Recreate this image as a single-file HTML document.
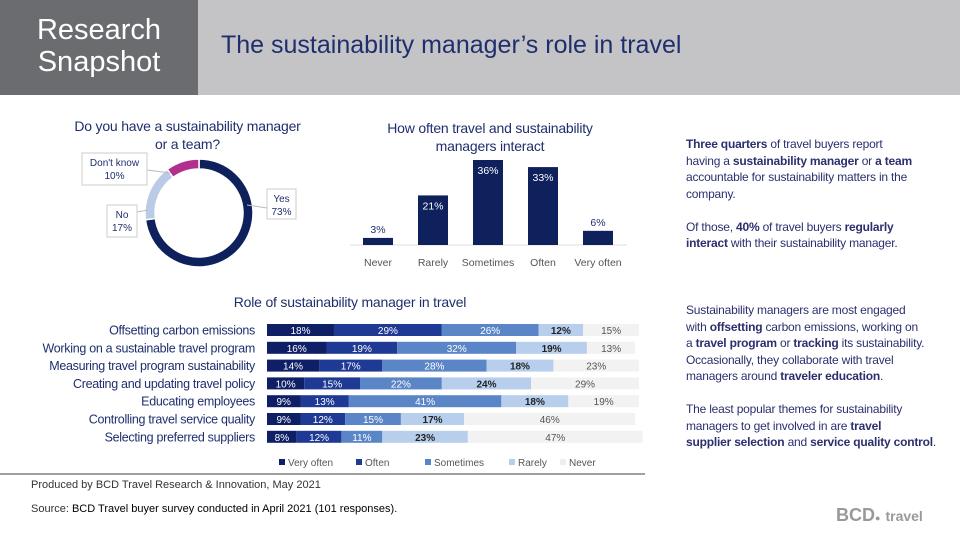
<!DOCTYPE html>
<html><head><meta charset="utf-8"><style>
body{margin:0;width:960px;height:540px;overflow:hidden;background:#fff;font-family:"Liberation Sans",sans-serif;position:relative}
.abs{position:absolute}
.txt{color:#2b2f6e;font-size:12px;line-height:16.5px;white-space:nowrap;letter-spacing:-0.2px}
.txt b{color:#2b2f6e}
</style></head><body>
<div class="abs" style="left:0;top:0;width:198px;height:95px;background:#6b6c70;color:#fff;font-size:29px;line-height:32px;text-align:center;padding-top:14px;box-sizing:border-box">Research<br>Snapshot</div>
<div class="abs" style="left:198px;top:0;width:762px;height:95px;background:#c4c4c6"></div>
<div class="abs" style="left:221px;top:31px;font-size:25px;color:#1f2f6e">The sustainability manager’s role in travel</div>

<svg class="abs" style="left:0;top:0" width="960" height="540">
<g id="donut"></g><g id="cols"></g><g id="stack"></g>
<line x1="0" y1="474" x2="645" y2="474" stroke="#a0a0a0" stroke-width="2"/>
</svg>

<div class="abs" style="left:35px;top:117px;width:305px;text-align:center;font-size:14px;line-height:18px;color:#1f2f6e;letter-spacing:-0.2px">Do you have a sustainability manager<br>or a team?</div>
<div class="abs" style="left:345px;top:119px;width:290px;text-align:center;font-size:14px;line-height:18px;color:#1f2f6e;letter-spacing:-0.2px">How often travel and sustainability<br>managers interact</div>
<div class="abs" style="left:200px;top:294px;width:300px;text-align:center;font-size:14px;color:#1f2f6e;letter-spacing:-0.2px">Role of sustainability manager in travel</div>

<div class="abs txt" style="left:686px;top:136px"><b>Three quarters</b> of travel buyers report<br>having a <b>sustainability manager</b> or <b>a team</b><br>accountable for sustainability matters in the<br>company.<br><br>Of those, <b>40%</b> of travel buyers <b>regularly</b><br><b>interact</b> with their sustainability manager.</div>
<div class="abs txt" style="left:686px;top:302px">Sustainability managers are most engaged<br>with <b>offsetting</b> carbon emissions, working on<br>a <b>travel program</b> or <b>tracking</b> its sustainability.<br>Occasionally, they collaborate with travel<br>managers around <b>traveler education</b>.<br><br>The least popular themes for sustainability<br>managers to get involved in are <b>travel</b><br><b>supplier selection</b> and <b>service quality control</b>.</div>

<div class="abs" style="left:31px;top:479px;font-size:11px;color:#333">Produced by BCD Travel Research &amp; Innovation, May 2021</div>
<div class="abs" style="left:31px;top:503px;font-size:11px;color:#333">Source: <span style="color:#000">BCD Travel buyer survey conducted in April 2021 (101 responses).</span></div>
<div class="abs" style="left:836px;top:505px;color:#999;font-size:18px;font-weight:bold">BCD<span style="font-size:9px">●</span> <span style="font-size:14px">travel</span></div>

<script>
const donutLabels=["Yes","No","Don't know"];
const donutValues=[73,17,10];
const colCats=["Never","Rarely","Sometimes","Often","Very often"];
const colValues=[3,21,36,33,6];
const rowCats=["Offsetting carbon emissions","Working on a sustainable travel program","Measuring travel program sustainability","Creating and updating travel policy","Educating employees","Controlling travel service quality","Selecting preferred suppliers"];
const seriesNames=["Very often","Often","Sometimes","Rarely","Never"];
const veryOften=[18,16,14,10,9,9,8];
const often=[29,19,17,15,13,12,12];
const sometimes=[26,32,28,22,41,15,11];
const rarely=[12,19,18,24,18,17,23];
const never=[15,13,23,29,19,46,47];

const NS="http://www.w3.org/2000/svg";
function mk(p,t,a){const e=document.createElementNS(NS,t);for(const k in a)e.setAttribute(k,a[k]);p.appendChild(e);return e;}

// donut
const dg=document.getElementById('donut');
const dColors=["#0f215c","#b9cbe6","#b2308d"];
const cx=199,cy=213,R=54,r=44;
let acc=0;const tot=donutValues.reduce((a,b)=>a+b,0);
function pt(f,rad){const a=f*2*Math.PI-Math.PI/2;return [cx+rad*Math.cos(a),cy+rad*Math.sin(a)];}
donutValues.forEach((v,i)=>{
 const f0=acc/tot,f1=(acc+v)/tot;acc+=v;
 const [x0,y0]=pt(f0,R),[x1,y1]=pt(f1,R),[x2,y2]=pt(f1,r),[x3,y3]=pt(f0,r);
 const lg=(f1-f0)>0.5?1:0;
 const p=mk(dg,'path',{d:`M${x0},${y0}A${R},${R} 0 ${lg} 1 ${x1},${y1}L${x2},${y2}A${r},${r} 0 ${lg} 0 ${x3},${y3}Z`,fill:dColors[i],stroke:'#fff','stroke-width':1.5});
 
 
});
const dLab=[[267,189,29,30],[107,205,30,32],[82,153,65,32]];
const dLine=[[267,208,247,205],[137,212,148,210],[147,170,170,173]];
donutValues.forEach((v,i)=>{
 const [x,y,w,h]=dLab[i];
 mk(dg,'line',{x1:dLine[i][0],y1:dLine[i][1],x2:dLine[i][2],y2:dLine[i][3],stroke:'#bbb'});
 const b=mk(dg,'rect',{x:x,y:y,width:w,height:h,fill:'#fff',stroke:'#ccc'});
 
 
 const t1=mk(dg,'text',{x:x+w/2,y:y+13,'text-anchor':'middle','font-size':10,fill:'#1f2f6e'});t1.textContent=donutLabels[i];
 
 
 const t2=mk(dg,'text',{x:x+w/2,y:y+26,'text-anchor':'middle','font-size':10,fill:'#1f2f6e'});t2.textContent=v+'%';
 
 
});

// columns
const cg=document.getElementById('cols');
const base=245,scale=85/36,x0c=378,step=55,bw=30;
mk(cg,'line',{x1:350,y1:base,x2:627,y2:base,stroke:'#ddd'});
colValues.forEach((v,i)=>{
 const cxp=x0c+i*step,h=v*scale;
 const b=mk(cg,'rect',{x:cxp-bw/2,y:base-h,width:bw,height:h,fill:'#0f215c'});
 
 
 const inside=h>20;
 const t=mk(cg,'text',{x:cxp,y:inside?base-h+14:base-h-5,'text-anchor':'middle','font-size':10.5,fill:inside?'#fff':'#1f2f6e'});t.textContent=v+'%';
 
 
 const c=mk(cg,'text',{x:cxp,y:base+21,'text-anchor':'middle','font-size':10.5,fill:'#555'});c.textContent=colCats[i];
 
 
});

// stacked
const sg=document.getElementById('stack');
const series=[veryOften,often,sometimes,rarely,never];
const sColors=["#0f1f66","#1f3a94","#5a86c8","#b7cfec","#f2f2f2"];
const tColors=["#fff","#fff","#fff","#222","#555"];
const sx0=267,sw=372/100,y0s=330,rstep=17.8,bh=12;
rowCats.forEach((c,i)=>{
 const yc=y0s+i*rstep;
 const l=mk(sg,'text',{x:255,y:yc+4.5,'text-anchor':'end','font-size':12.5,fill:'#1f2f6e','letter-spacing':'-0.3'});l.textContent=c;
 
 
 let a=0;
 series.forEach((s,j)=>{
  const v=s[i];
  const b=mk(sg,'rect',{x:sx0+a*sw,y:yc-bh/2,width:v*sw,height:bh,fill:sColors[j]});
  
  
  const t=mk(sg,'text',{x:sx0+(a+v/2)*sw,y:yc+4,'text-anchor':'middle','font-size':10,fill:tColors[j],'font-weight':j==3?'bold':'normal'});t.textContent=v+'%';
  
  
  a+=v;
 });
});
const lx=[279,356,425,509,560];
seriesNames.forEach((n,j)=>{
 const g=mk(sg,'g',{});
 
 
 mk(g,'rect',{x:lx[j],y:459,width:6,height:6,fill:sColors[j]==="#f2f2f2"?"#eee":sColors[j]});
 const t=mk(g,'text',{x:lx[j]+9,y:466,'font-size':10,fill:'#555'});t.textContent=n;
});
</script>
</body></html>
